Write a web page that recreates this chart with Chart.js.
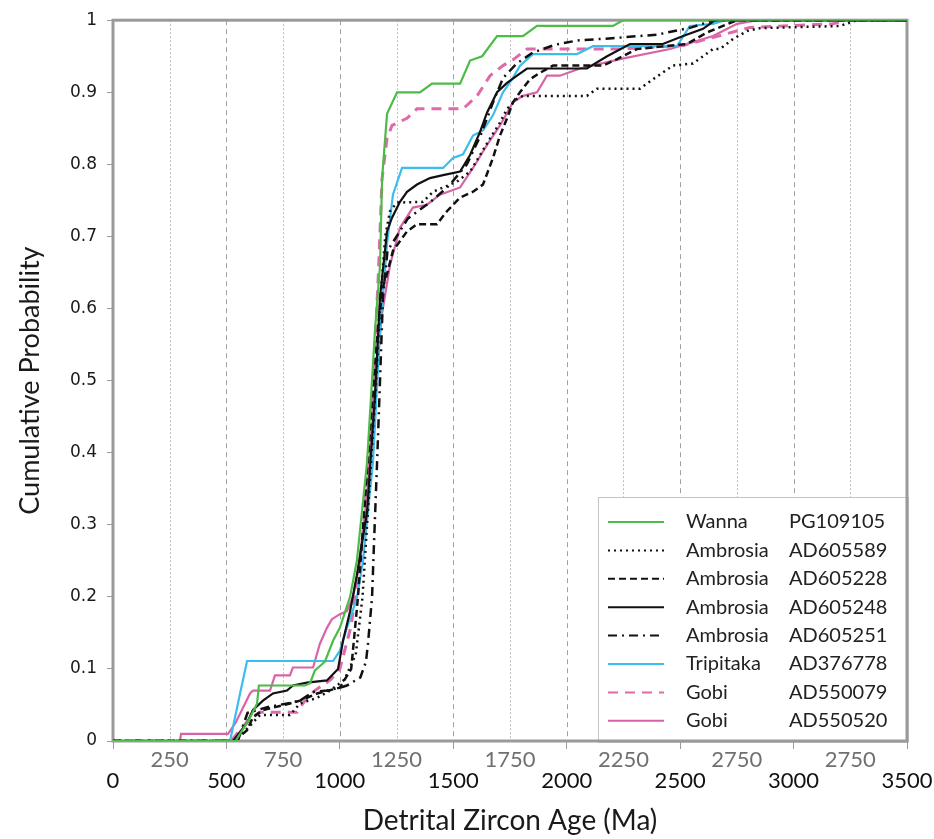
<!DOCTYPE html>
<html>
<head>
<meta charset="utf-8">
<script src="https://cdn.jsdelivr.net/npm/chart.js@4.4.1/dist/chart.umd.min.js"></script>
<style>
  html, body { margin: 0; padding: 0; background: #fff; }
  #wrap { width: 934px; height: 839px; }
</style>
</head>
<body>
<div id="wrap"><canvas id="cdf" width="934" height="839"></canvas></div>
<script>
// axis tick labels (the source figure repeats "2750" at the 3250 position)
const majorTickLabels = ['0', '500', '1000', '1500', '2000', '2500', '3000', '3500'];
const minorTickLabels = ['250', '750', '1250', '1750', '2250', '2750', '2750'];
const yTickLabels = ['0', '0.1', '0.2', '0.3', '0.4', '0.5', '0.6', '0.7', '0.8', '0.9', '1'];

const sampleNames = ['Wanna', 'Ambrosia', 'Ambrosia', 'Ambrosia', 'Ambrosia', 'Tripitaka', 'Gobi', 'Gobi'];
const sampleCodes = ['PG109105', 'AD605589', 'AD605228', 'AD605248', 'AD605251', 'AD376778', 'AD550079', 'AD550520'];

// age (Ma) / cumulative probability
const wannaAges = [0, 540, 600, 635, 643, 846, 868, 890, 934, 970, 1000, 1045, 1075, 1120, 1155, 1177, 1186, 1208, 1252, 1353, 1406, 1530, 1574, 1627, 1693, 1807, 1869, 2204, 2248, 3500];
const wannaProbs = [0, 0, 0.03, 0.052, 0.077, 0.077, 0.08, 0.098, 0.11, 0.139, 0.157, 0.2, 0.25, 0.387, 0.57, 0.66, 0.78, 0.87, 0.9, 0.9, 0.912, 0.912, 0.944, 0.95, 0.978, 0.978, 0.992, 0.992, 1, 1];

const ad605589Ages = [0, 538, 600, 648, 780, 824, 900, 957, 1020, 1070, 1100, 1130, 1160, 1180, 1200, 1221, 1252, 1366, 1411, 1516, 1574, 1618, 1662, 1706, 1737, 1781, 1807, 2089, 2133, 2323, 2380, 2468, 2557, 2645, 2676, 2733, 2795, 2852, 3205, 3280, 3500];
const ad605589Probs = [0, 0, 0.02, 0.036, 0.036, 0.052, 0.06, 0.07, 0.085, 0.12, 0.2, 0.35, 0.5, 0.62, 0.7, 0.735, 0.747, 0.748, 0.762, 0.776, 0.79, 0.813, 0.836, 0.858, 0.877, 0.891, 0.895, 0.895, 0.905, 0.905, 0.918, 0.937, 0.94, 0.96, 0.96, 0.974, 0.985, 0.989, 0.992, 1, 1];

const ad605228Ages = [0, 535, 591, 617, 661, 780, 824, 900, 1000, 1050, 1080, 1110, 1140, 1170, 1190, 1208, 1234, 1296, 1340, 1428, 1472, 1530, 1587, 1631, 1675, 1706, 1737, 1763, 1794, 1838, 1882, 1940, 2160, 2222, 2310, 2530, 2618, 2751, 3500];
const ad605228Probs = [0, 0, 0.015, 0.033, 0.043, 0.052, 0.056, 0.066, 0.074, 0.1, 0.2, 0.33, 0.46, 0.58, 0.63, 0.648, 0.68, 0.707, 0.717, 0.717, 0.735, 0.754, 0.762, 0.772, 0.809, 0.84, 0.864, 0.886, 0.9, 0.918, 0.927, 0.937, 0.937, 0.946, 0.96, 0.967, 0.983, 1, 1];

const ad605248Ages = [0, 529, 591, 617, 661, 705, 767, 793, 855, 943, 992, 1014, 1045, 1075, 1120, 1155, 1177, 1208, 1230, 1265, 1296, 1340, 1397, 1455, 1530, 1574, 1618, 1649, 1693, 1737, 1781, 1825, 2089, 2178, 2279, 2424, 2513, 2601, 2654, 3500];
const ad605248Probs = [0, 0, 0.025, 0.043, 0.056, 0.066, 0.07, 0.077, 0.081, 0.084, 0.1, 0.139, 0.18, 0.23, 0.318, 0.479, 0.616, 0.707, 0.726, 0.748, 0.762, 0.772, 0.781, 0.785, 0.79, 0.813, 0.845, 0.872, 0.9, 0.913, 0.923, 0.933, 0.933, 0.95, 0.967, 0.967, 0.978, 0.988, 1, 1];

const ad605251Ages = [0, 550, 593, 680, 767, 824, 882, 943, 1000, 1031, 1090, 1115, 1124, 1142, 1150, 1164, 1177, 1190, 1210, 1300, 1400, 1480, 1560, 1620, 1680, 1720, 1780, 1850, 1950, 2050, 2200, 2400, 2550, 2650, 3500];
const ad605251Probs = [0, 0, 0.039, 0.047, 0.052, 0.056, 0.068, 0.07, 0.074, 0.077, 0.088, 0.11, 0.135, 0.2, 0.27, 0.386, 0.5, 0.616, 0.68, 0.725, 0.748, 0.77, 0.8, 0.84, 0.89, 0.92, 0.94, 0.955, 0.966, 0.972, 0.975, 0.98, 0.99, 1, 1];

const tripitakaAges = [0, 516, 560, 591, 970, 1000, 1031, 1075, 1102, 1146, 1177, 1208, 1234, 1274, 1455, 1499, 1543, 1587, 1631, 1675, 1719, 1763, 1794, 1851, 2045, 2116, 2486, 2543, 2645, 2698, 3500];
const tripitakaProbs = [0, 0, 0.066, 0.111, 0.111, 0.125, 0.157, 0.198, 0.25, 0.387, 0.57, 0.69, 0.758, 0.795, 0.795, 0.809, 0.814, 0.84, 0.847, 0.868, 0.9, 0.92, 0.937, 0.953, 0.953, 0.964, 0.964, 0.992, 0.995, 1, 1];

const ad550079Ages = [0, 520, 560, 600, 648, 811, 846, 890, 960, 1000, 1050, 1100, 1140, 1170, 1186, 1208, 1230, 1296, 1340, 1543, 1605, 1662, 1719, 1763, 1825, 2235, 2513, 2632, 2808, 3174, 3227, 3500];
const ad550079Probs = [0, 0, 0.015, 0.03, 0.04, 0.04, 0.056, 0.07, 0.085, 0.1, 0.16, 0.28, 0.45, 0.65, 0.78, 0.836, 0.854, 0.864, 0.877, 0.877, 0.895, 0.923, 0.937, 0.945, 0.96, 0.96, 0.965, 0.975, 0.99, 0.995, 1, 1];

const ad550520Ages = [0, 295, 300, 507, 540, 604, 617, 692, 714, 780, 793, 882, 912, 943, 965, 1000, 1031, 1058, 1080, 1120, 1146, 1186, 1221, 1265, 1322, 1384, 1441, 1530, 1587, 1649, 1706, 1763, 1807, 1869, 1913, 1970, 2058, 2235, 2455, 2530, 2645, 2751, 2839, 3500];
const ad550520Probs = [0, 0, 0.01, 0.01, 0.025, 0.066, 0.07, 0.07, 0.091, 0.091, 0.102, 0.102, 0.135, 0.157, 0.169, 0.176, 0.18, 0.2, 0.235, 0.34, 0.455, 0.593, 0.66, 0.712, 0.74, 0.744, 0.758, 0.768, 0.795, 0.827, 0.854, 0.886, 0.895, 0.9, 0.923, 0.923, 0.933, 0.946, 0.96, 0.967, 0.978, 0.995, 1, 1];

document.addEventListener('DOMContentLoaded', function () {
    const seriesConfigs = [
        { ages: wannaAges, probs: wannaProbs, color: '#4dbb48', width: 2.2, dash: [] },
        { ages: ad605589Ages, probs: ad605589Probs, color: '#111', width: 2.5, dash: [2, 4] },
        { ages: ad605228Ages, probs: ad605228Probs, color: '#111', width: 2.5, dash: [7, 4] },
        { ages: ad605248Ages, probs: ad605248Probs, color: '#111', width: 2.2, dash: [] },
        { ages: ad605251Ages, probs: ad605251Probs, color: '#111', width: 2.5, dash: [9, 5, 2, 5] },
        { ages: tripitakaAges, probs: tripitakaProbs, color: '#3cbdf0', width: 2.2, dash: [] },
        { ages: ad550079Ages, probs: ad550079Probs, color: '#df6aa9', width: 3, dash: [10, 7] },
        { ages: ad550520Ages, probs: ad550520Probs, color: '#d864a8', width: 2.2, dash: [] }
    ];

    const datasets = seriesConfigs.map((s, i) => ({
        label: sampleNames[i] + ' ' + sampleCodes[i],
        data: s.ages.map((a, j) => ({ x: a, y: s.probs[j] })),
        borderColor: s.color,
        borderWidth: s.width,
        borderDash: s.dash,
        pointRadius: 0,
        tension: 0,
        fill: false
    }));

    // vertical grid lines + plot frame
    const gridFrame = {
        id: 'gridFrame',
        beforeDatasetsDraw(chart) {
            const ctx = chart.ctx;
            const xs = chart.scales.x;
            const { left, right, top, bottom } = chart.chartArea;
            ctx.save();
            ctx.lineWidth = 1;
            xs.ticks.forEach(t => {
                if (t.value <= xs.min || t.value >= xs.max) return;
                const px = Math.round(xs.getPixelForValue(t.value)) + 0.5;
                const major = t.value % 500 === 0;
                ctx.setLineDash(major ? [5, 4] : [2, 2]);
                ctx.strokeStyle = major ? '#a0a0a0' : '#bdbdbd';
                ctx.beginPath();
                ctx.moveTo(px, top);
                ctx.lineTo(px, bottom);
                ctx.stroke();
            });
            ctx.setLineDash([]);
            ctx.strokeStyle = '#9a9a9a';
            ctx.lineWidth = 3;
            ctx.strokeRect(left, top, right - left, bottom - top);
            ctx.restore();
        }
    };

    // two-column legend box in the lower right corner
    const sampleLegend = {
        id: 'sampleLegend',
        afterDraw(chart) {
            const ctx = chart.ctx;
            const { right, bottom } = chart.chartArea;
            const boxW = 309, boxH = 244;
            const bx = right - boxW, by = bottom - boxH;
            ctx.save();
            ctx.fillStyle = '#fff';
            ctx.fillRect(bx, by, boxW, boxH);
            ctx.strokeStyle = '#c4c4c4';
            ctx.lineWidth = 1;
            ctx.strokeRect(bx + 0.5, by + 0.5, boxW, boxH);
            ctx.strokeStyle = '#9a9a9a';
            ctx.lineWidth = 3;
            ctx.beginPath();
            ctx.moveTo(right, by);
            ctx.lineTo(right, bottom);
            ctx.lineTo(bx, bottom);
            ctx.stroke();

            ctx.font = '20px Lato';
            ctx.textBaseline = 'middle';
            ctx.textAlign = 'left';
            chart.data.datasets.forEach((ds, i) => {
                const y = by + 25 + i * 28.4;
                ctx.strokeStyle = ds.borderColor;
                ctx.lineWidth = Math.min(ds.borderWidth, 2);
                ctx.setLineDash(ds.borderDash);
                ctx.beginPath();
                ctx.moveTo(bx + 10, y);
                ctx.lineTo(bx + 66, y);
                ctx.stroke();
                ctx.setLineDash([]);
                ctx.fillStyle = '#222';
                ctx.fillText(sampleNames[i], bx + 88, y);
                ctx.fillText(sampleCodes[i], bx + 191, y);
            });
            ctx.restore();
        }
    };

    new Chart(document.getElementById('cdf'), {
        type: 'line',
        data: { datasets: datasets },
        plugins: [gridFrame, sampleLegend],
        options: {
            responsive: false,
            animation: false,
            layout: { padding: { left: 0, top: 14, right: 27, bottom: 0 } },
            scales: {
                x: {
                    type: 'linear',
                    min: 0,
                    max: 3500,
                    afterFit: function (scale) { scale.height = 98; },
                    border: { display: false },
                    grid: {
                        drawOnChartArea: false,
                        tickLength: 8,
                        tickColor: ctx => (ctx.tick && ctx.tick.value % 500 === 0) ? '#9a9a9a' : 'rgba(0,0,0,0)'
                    },
                    ticks: {
                        stepSize: 250,
                        autoSkip: false,
                        maxRotation: 0,
                        padding: 0,
                        font: { family: 'Lato', size: 22, lineHeight: 0.96 },
                        color: ctx => (ctx.tick && ctx.tick.value % 500 === 0) ? '#111' : '#707070',
                        callback: function (value) {
                            if (value % 500 === 0) return ['', majorTickLabels[value / 500]];
                            return [minorTickLabels[(value - 250) / 500], ''];
                        }
                    },
                    title: {
                        display: true,
                        text: 'Detrital Zircon Age (Ma)',
                        color: '#1a1a1a',
                        font: { family: 'Lato', size: 28 },
                        padding: { top: 0, bottom: 1 }
                    }
                },
                y: {
                    min: 0,
                    max: 1,
                    afterFit: function (scale) { scale.width = 113; },
                    border: { display: false },
                    grid: { drawOnChartArea: false, tickLength: 6, tickColor: '#9a9a9a' },
                    ticks: {
                        stepSize: 0.1,
                        padding: 10,
                        color: '#1a1a1a',
                        font: { family: 'DejaVu Sans', size: 17 },
                        callback: function (value) { return yTickLabels[Math.round(value * 10)]; }
                    },
                    title: {
                        display: true,
                        text: 'Cumulative Probability',
                        color: '#1a1a1a',
                        font: { family: 'Lato', size: 27 },
                        padding: { top: 14, bottom: 0 }
                    }
                }
            },
            plugins: {
                legend: { display: false },
                tooltip: { enabled: false }
            }
        }
    });
});
</script>
</body>
</html>
